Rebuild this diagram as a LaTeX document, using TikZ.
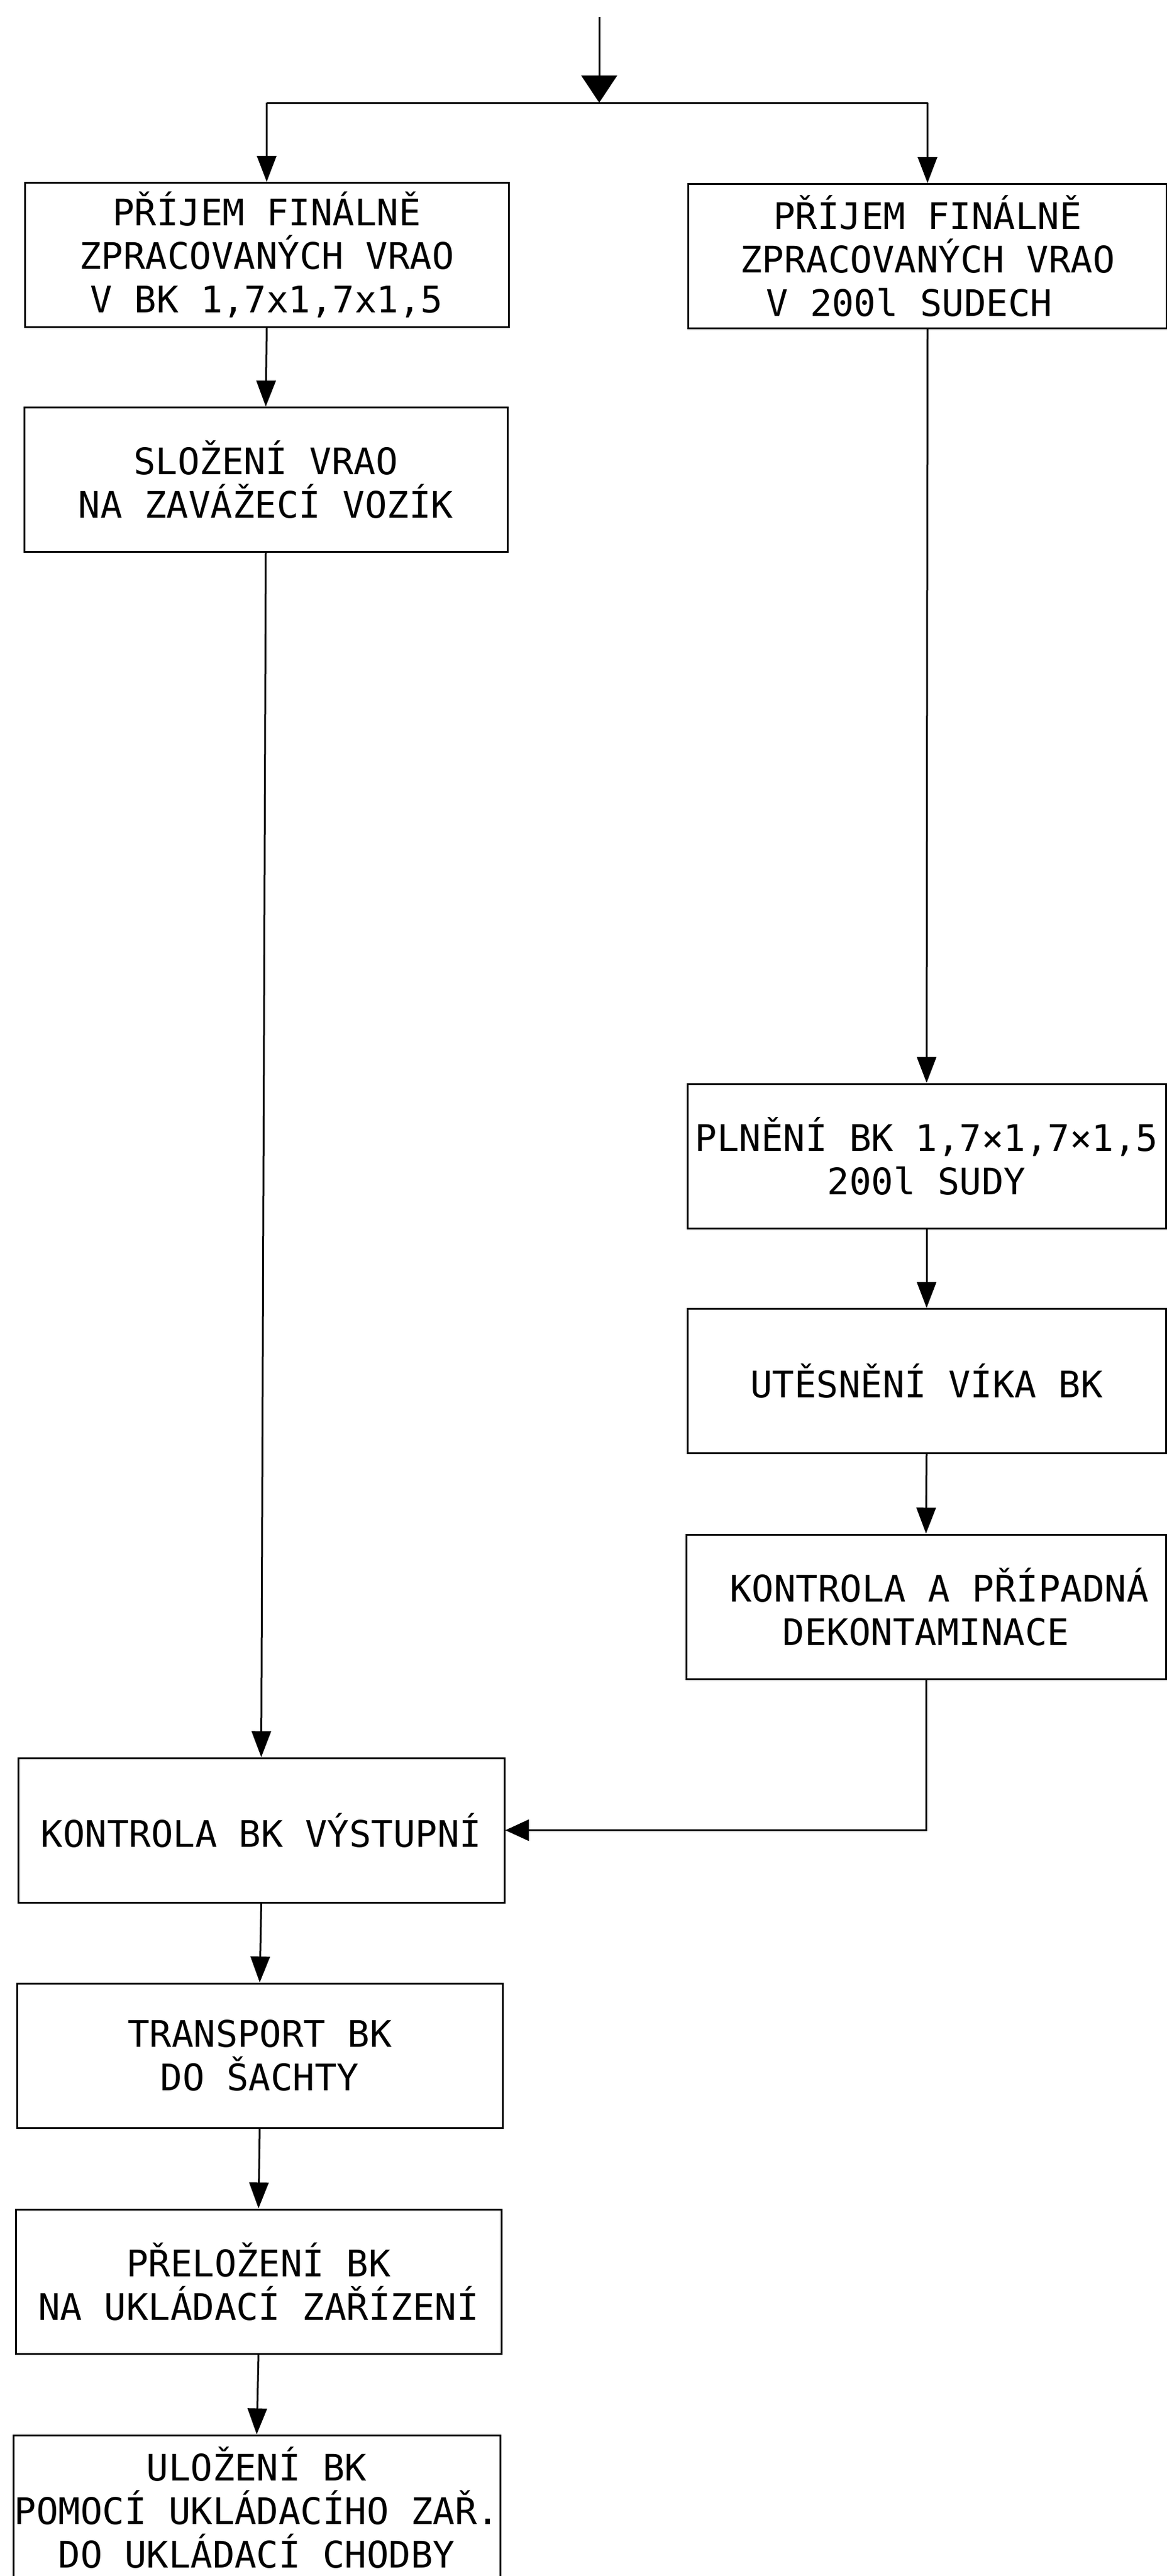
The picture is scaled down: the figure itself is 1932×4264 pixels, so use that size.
\documentclass[tikz,border=0pt]{standalone}
\usepackage{fontspec}
\newfontfamily\plotfont{DejaVu Sans Mono}
\usetikzlibrary{arrows.meta}
\begin{document}
\begin{tikzpicture}[x=1pt,y=-1pt,
  box/.style={draw, line width=3pt, minimum height=239pt, inner sep=0pt, align=center,
    font=\plotfont\fontsize{60.6}{72}\selectfont},
  conn/.style={line width=3pt},
  arr/.style={conn, -{Triangle[length=43pt,width=32pt]}},
]
\clip (0,0) rectangle (1932,4264);
\fill[white] (0,0) rectangle (1932,4264);

\node[box, minimum width=801pt] (L1) at (441.5,422) {PŘÍJEM FINÁLNĚ\\ZPRACOVANÝCH VRAO\\V BK 1,7x1,7x1,5};
\node[box, minimum width=792pt] (R1) at (1535.5,424) {PŘÍJEM FINÁLNĚ\\ZPRACOVANÝCH VRAO\\V 200l SUDECH\hspace*{1em}};
\node[box, minimum width=800pt] (L2) at (440,794) {SLOŽENÍ VRAO\\NA ZAVÁŽECÍ VOZÍK};
\node[box, minimum width=792pt] (R2) at (1534,1913.5) {PLNĚNÍ BK 1,7×1,7×1,5\\200l SUDY};
\node[box, minimum width=792pt] (R3) at (1534,2286) {UTĚSNĚNÍ VÍKA BK};
\node[box, minimum width=794pt] (R4) at (1533,2659.5) {\hspace*{44pt}KONTROLA A PŘÍPADNÁ\\DEKONTAMINACE};
\node[box, minimum width=805pt] (L3) at (432.5,3029.5) {KONTROLA BK VÝSTUPNÍ};
\node[box, minimum width=804pt] (L4) at (430,3402.5) {TRANSPORT BK\\DO ŠACHTY};
\node[box, minimum width=804pt] (L5) at (428,3776.5) {PŘELOŽENÍ BK\\NA UKLÁDACÍ ZAŘÍZENÍ};
\node[box, minimum width=806pt, minimum height=240pt] (L6) at (425,4151) {ULOŽENÍ BK\\POMOCÍ UKLÁDACÍHO ZAŘ.\\DO UKLÁDACÍ CHODBY};

\coordinate (top) at (992,28);
\coordinate (split) at (992,170);
\draw[conn, -{Triangle[length=45pt,width=59pt]}] (top) -- (split);
\draw[conn] (L1.north |- split) -- (R1.north |- split);
\draw[arr] (L1.north |- split) -- (L1.north);
\draw[arr] (R1.north |- split) -- (R1.north);
\draw[arr] (L1.south) -- (L2.north);
\draw[arr] (R1.south) -- (R2.north);
\draw[arr] (R2.south) -- (R3.north);
\draw[arr] (R3.south) -- (R4.north);
\draw[conn, -{Triangle[length=39pt,width=35pt]}] (R4.south) |- (L3.east);
\draw[arr] (L2.south) -- (L3.north);
\draw[arr] (L3.south) -- (L4.north);
\draw[arr] (L4.south) -- (L5.north);
\draw[arr] (L5.south) -- (L6.north);
\end{tikzpicture}
\end{document}
